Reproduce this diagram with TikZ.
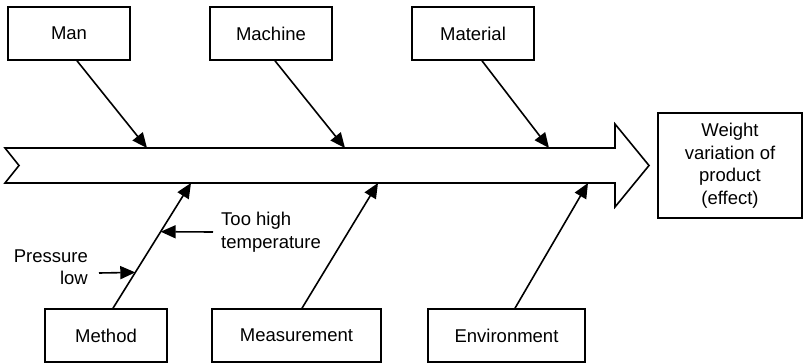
\documentclass[tikz,border=0pt]{standalone}
\usepackage{fontspec}
\setmainfont{Liberation Sans}
\usetikzlibrary{arrows.meta,calc}
\begin{document}
\begin{tikzpicture}[x=1pt,y=-1pt,
  every node/.style={font=\fontsize{18.5}{22.5}\selectfont},
  box/.style={draw,line width=1.6pt,minimum height=53pt,inner sep=0pt},
  arr/.style={line width=1.6pt,-{Triangle[length=15pt,width=13pt]}},
  lbl/.style={inner sep=0pt}]
\useasboundingbox (0,0) rectangle (804,364);
% big arrow (spine)
\draw[line width=1.6pt,line join=miter] (5,148) -- (615,148) -- (615,124) -- (649,165.5) -- (615,207) -- (615,183) -- (5,183) -- (19,165.5) -- cycle;
% boxes
\node[box,minimum width=122pt] (man) at (69,33.5) {Man};
\node[box,minimum width=122pt] (machine) at (271,33.5) {Machine};
\node[box,minimum width=122pt] (material) at (473,33.5) {Material};
\node[box,minimum width=122pt] (method) at (106,335.5) {Method};
\node[box,minimum width=169pt] (measure) at (296.5,335.5) {Measurement};
\node[box,minimum width=157pt] (env) at (506.5,335.5) {Environment};
\node[box,minimum width=144pt,minimum height=105pt,align=center] (effect) at (730,165.5) {Weight\\variation of\\product\\(effect)};
% spine attachment points
\coordinate (t1) at (147,148);
\coordinate (t2) at (345,148);
\coordinate (t3) at (549,148);
\coordinate (b1) at (191,183);
\coordinate (b2) at (378,183);
\coordinate (b3) at (588,183);
% main bones
\draw[arr] ([xshift=8pt]man.south) -- (t1);
\draw[arr] ([xshift=4pt]machine.south) -- (t2);
\draw[arr] ([xshift=9pt]material.south) -- (t3);
\draw[arr] ([xshift=7pt]method.north) -- (b1);
\draw[arr] ([xshift=5.5pt]measure.north) -- (b2);
\draw[arr] ([xshift=8.5pt]env.north) -- (b3);
% sub causes
\node[lbl,anchor=west,align=left] (temp) at (221,232) {Too high\\temperature};
\node[lbl,anchor=east,align=right] (press) at (88,267) {Pressure\\low};
\coordinate (p1) at ($([xshift=7pt]method.north)!0.611!(b1)$);
\coordinate (p2) at ($([xshift=7pt]method.north)!0.286!(b1)$);
\coordinate (pt) at (99,273);
\draw[arr] ([xshift=-8pt]temp.west) -- (p1);
\draw[arr] (pt) -- (p2);
\end{tikzpicture}
\end{document}
